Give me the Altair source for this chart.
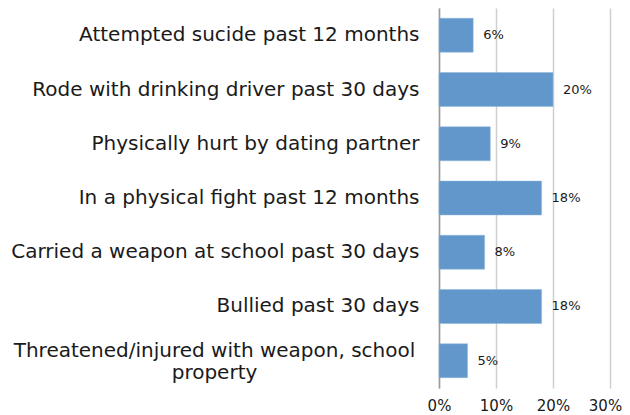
import altair as alt
import pandas as pd

categories = [
    "Attempted sucide past 12 months",
    "Rode with drinking driver past 30 days",
    "Physically hurt by dating partner",
    "In a physical fight past 12 months",
    "Carried a weapon at school past 30 days",
    "Bullied past 30 days",
    "Threatened/injured with weapon, school\nproperty",
]
values = [0.06, 0.20, 0.09, 0.18, 0.08, 0.18, 0.05]
x_ticks = [0, 0.1, 0.2, 0.3]

df = pd.DataFrame({"cat": categories, "val": values})

FONT = "DejaVu Sans"
TEXT = "#1a1a1a"
MULTI = "indexof(datum.value, '\\n') >= 0"

y_enc = alt.Y(
    "cat:N",
    sort=categories,
    title=None,
    scale=alt.Scale(paddingInner=0.375, paddingOuter=0.19),
    axis=alt.Axis(
        ticks=False,
        domain=True,
        domainColor="#9a9a9a",
        domainWidth=1.5,
        labelFont=FONT,
        labelFontSize=20,
        labelColor=TEXT,
        labelLimit=500,
        labelPadding={"condition": {"test": MULTI, "value": 225}, "value": 20},
        labelAlign={"condition": {"test": MULTI, "value": "center"}, "value": "right"},
        labelOffset={"condition": {"test": MULTI, "value": -10}, "value": 0},
        labelLineHeight=22,
        labelExpr="split(datum.value, '\\n')",
    ),
)

x_enc = alt.X(
    "val:Q",
    title=None,
    scale=alt.Scale(domain=[0, 0.3], nice=False),
    axis=alt.Axis(
        values=x_ticks,
        format=".0%",
        ticks=False,
        domain=False,
        grid=True,
        gridColor="#cfcfcf",
        gridWidth=1.5,
        labelFont=FONT,
        labelFontSize=15,
        labelColor=TEXT,
        labelPadding=10,
        labelFlush=False,
        labelOffset={"condition": {"test": "datum.value >= 0.3", "value": -5}, "value": 0},
    ),
)

bars = alt.Chart(df).mark_bar(color="#6197CB", stroke="#8fb6dc", strokeWidth=0.5).encode(
    y=y_enc, x=x_enc
)
labels = alt.Chart(df).mark_text(
    align="left", baseline="middle", dx=10, font=FONT, fontSize=13, color=TEXT
).encode(
    y=alt.Y("cat:N", sort=categories),
    x="val:Q",
    text=alt.Text("val:Q", format=".0%"),
)

chart = (
    alt.layer(bars, labels)
    .properties(
        width=171,
        height=380,
        background="white",
        autosize=alt.AutoSizeParams(type="none"),
        padding={"left": 431, "top": 0, "right": 12, "bottom": 26},
    )
    .configure_view(stroke="transparent", strokeWidth=0)
)

chart.save("out.html", embed_options={"renderer": "svg", "actions": False})
